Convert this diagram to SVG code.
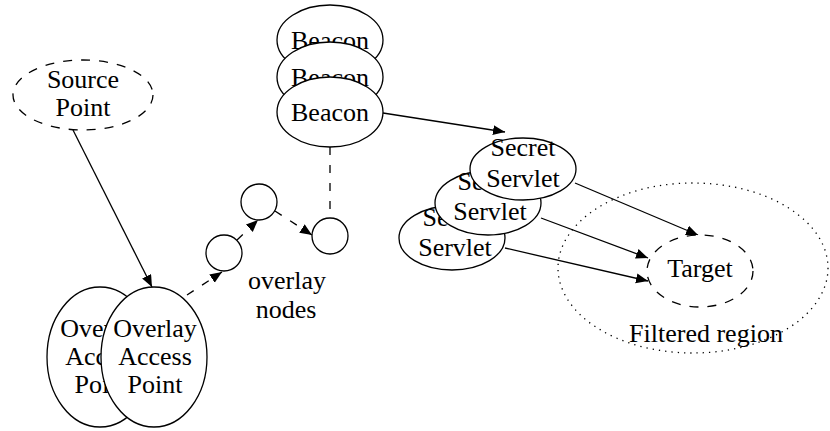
<svg xmlns="http://www.w3.org/2000/svg" width="830" height="431" viewBox="0 0 830 431">
<style>
.t{font-family:'Liberation Serif',serif !important;font-size:26px !important;fill:#000;text-anchor:middle}
.n{fill:#fff;stroke:#000;stroke-width:1.3}
.dn{fill:#fff;stroke:#000;stroke-width:1.3;stroke-dasharray:9,9}
.e{fill:none;stroke:#000;stroke-width:1.3}
.de{fill:none;stroke:#000;stroke-width:1.3;stroke-dasharray:8,10}
.dot{fill:none;stroke:#000;stroke-width:1.3;stroke-dasharray:1.3,5}
</style>
<defs>
<marker id="ah" markerUnits="userSpaceOnUse" markerWidth="13" markerHeight="11" refX="12" refY="5" orient="auto">
<path d="M0,0 L12,5 L0,10 z" fill="#000" stroke="none"/>
</marker>
</defs>
<g id="filtered-region">
<ellipse class="dot" cx="693" cy="268" rx="135" ry="85"/>
<text class="t" x="706" y="342" font-family="Liberation Serif" font-size="26" text-anchor="middle">Filtered region</text>
</g>
<g id="connectors">
<path class="e" d="M73,130 L152,287" marker-end="url(#ah)"/>
<path class="de" d="M187,295 L222,272" marker-end="url(#ah)"/>
<path class="de" d="M237,240 L258,220" marker-end="url(#ah)"/>
<path class="de" d="M275,211 L312,235" marker-end="url(#ah)"/>
<path class="de" d="M330,147 L330,218"/>
<path class="e" d="M383,113 L505,132" marker-end="url(#ah)"/>
<path class="e" d="M575,183 L698,235" marker-end="url(#ah)"/>
<path class="e" d="M541,218 L648,258" marker-end="url(#ah)"/>
<path class="e" d="M505,248 L648,281" marker-end="url(#ah)"/>
</g>
<g id="source-point">
<ellipse class="dn" cx="83" cy="95" rx="70" ry="35"/>
<text class="t" x="83" y="88" font-family="Liberation Serif" font-size="26" text-anchor="middle">Source</text>
<text class="t" x="83" y="116" font-family="Liberation Serif" font-size="26" text-anchor="middle">Point</text>
</g>
<g id="overlay-access-point-1">
<ellipse class="n" cx="100" cy="357" rx="53" ry="70"/>
<text class="t" x="102" y="337" font-family="Liberation Serif" font-size="26" text-anchor="middle">Overlay</text>
<text class="t" x="102" y="365" font-family="Liberation Serif" font-size="26" text-anchor="middle">Access</text>
<text class="t" x="102" y="393" font-family="Liberation Serif" font-size="26" text-anchor="middle">Point</text>
</g>
<g id="overlay-access-point-2">
<ellipse class="n" cx="154" cy="357" rx="53" ry="70"/>
<text class="t" x="155" y="337" font-family="Liberation Serif" font-size="26" text-anchor="middle">Overlay</text>
<text class="t" x="155" y="365" font-family="Liberation Serif" font-size="26" text-anchor="middle">Access</text>
<text class="t" x="155" y="393" font-family="Liberation Serif" font-size="26" text-anchor="middle">Point</text>
</g>
<g id="overlay-node-1"><circle class="n" cx="224" cy="253" r="18"/></g>
<g id="overlay-node-2"><circle class="n" cx="259" cy="202" r="18"/></g>
<g id="overlay-node-3"><circle class="n" cx="330" cy="236" r="18"/></g>
<g id="overlay-nodes-label">
<text class="t" x="287" y="289" font-family="Liberation Serif" font-size="26" text-anchor="middle">overlay</text>
<text class="t" x="286" y="318" font-family="Liberation Serif" font-size="26" text-anchor="middle">nodes</text>
</g>
<g id="beacon-1">
<ellipse class="n" cx="330" cy="40" rx="53" ry="35"/>
<text class="t" x="330" y="49" font-family="Liberation Serif" font-size="26" text-anchor="middle">Beacon</text>
</g>
<g id="beacon-2">
<ellipse class="n" cx="330" cy="77" rx="53" ry="35"/>
<text class="t" x="330" y="86" font-family="Liberation Serif" font-size="26" text-anchor="middle">Beacon</text>
</g>
<g id="beacon-3">
<ellipse class="n" cx="330" cy="112" rx="53" ry="35"/>
<text class="t" x="330" y="121" font-family="Liberation Serif" font-size="26" text-anchor="middle">Beacon</text>
</g>
<g id="secret-servlet-1">
<ellipse class="n" cx="452" cy="238" rx="53" ry="32"/>
<text class="t" x="455" y="226" font-family="Liberation Serif" font-size="26" text-anchor="middle">Secret</text>
<text class="t" x="455" y="256" font-family="Liberation Serif" font-size="26" text-anchor="middle">Servlet</text>
</g>
<g id="secret-servlet-2">
<ellipse class="n" cx="488" cy="203" rx="53" ry="32"/>
<text class="t" x="490" y="190" font-family="Liberation Serif" font-size="26" text-anchor="middle">Secret</text>
<text class="t" x="490" y="220" font-family="Liberation Serif" font-size="26" text-anchor="middle">Servlet</text>
</g>
<g id="secret-servlet-3">
<ellipse class="n" cx="523" cy="169" rx="53" ry="31"/>
<text class="t" x="523" y="156" font-family="Liberation Serif" font-size="26" text-anchor="middle">Secret</text>
<text class="t" x="523" y="187" font-family="Liberation Serif" font-size="26" text-anchor="middle">Servlet</text>
</g>
<g id="target">
<ellipse class="dn" cx="700" cy="271" rx="53" ry="36"/>
<text class="t" x="700" y="277" font-family="Liberation Serif" font-size="26" text-anchor="middle">Target</text>
</g>
</svg>
